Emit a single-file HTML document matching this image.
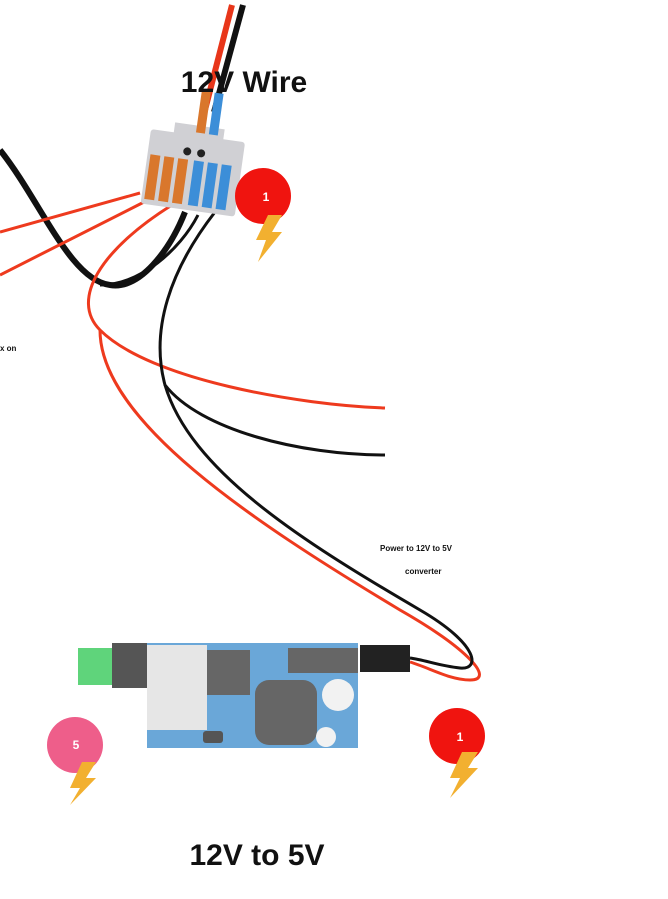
<!DOCTYPE html>
<html><head><style>
body{margin:0;background:#fff;width:668px;height:894px;overflow:hidden;font-family:"Liberation Sans",sans-serif}
</style></head><body>
<svg width="668" height="894" viewBox="0 0 668 894" xmlns="http://www.w3.org/2000/svg">
<rect width="668" height="894" fill="#fff"/>
<path d="M232 5 L205 110" stroke="#e8361a" stroke-width="6" fill="none"/>
<path d="M243 5 L214 112" stroke="#111" stroke-width="6" fill="none"/>
<path d="M0 150 C40 200 70 280 110 285 C140 290 170 250 185 212" stroke="#111" stroke-width="6" fill="none"/>
<path d="M100 285 C140 285 180 250 198 215" stroke="#111" stroke-width="3" fill="none"/>
<path d="M0 232 L140 193" stroke="#ee3a1e" stroke-width="3" fill="none"/>
<path d="M0 275 L148 200" stroke="#ee3a1e" stroke-width="3" fill="none"/>
<path d="M172 205 C100 250 70 300 100 330 C150 380 300 405 385 408" stroke="#ee3a1e" stroke-width="3" fill="none"/>
<path d="M100 330 C100 420 250 520 400 610 C470 650 495 680 470 680 C450 680 430 668 410 662" stroke="#ee3a1e" stroke-width="3" fill="none"/>
<path d="M215 212 C170 270 150 330 165 385 C200 430 300 455 385 455" stroke="#111" stroke-width="3" fill="none"/>
<path d="M165 385 C190 470 300 540 420 610 C480 645 480 670 460 668 C440 666 425 660 410 658" stroke="#111" stroke-width="3" fill="none"/>
<g transform="rotate(8 190 175)">
<rect x="145" y="135" width="95" height="75" fill="#d0d0d4" rx="3"/>
<rect x="168" y="125" width="50" height="14" fill="#d0d0d4"/>
<circle cx="184" cy="152" r="4" fill="#222"/><circle cx="198" cy="152" r="4" fill="#222"/>
<rect x="190" y="90" width="9" height="42" fill="#d9772c"/>
<rect x="203" y="90" width="9" height="42" fill="#3c8ed8"/>
<rect x="148" y="160" width="10" height="45" fill="#d9772c"/>
<rect x="162" y="160" width="10" height="45" fill="#d9772c"/>
<rect x="176" y="160" width="10" height="45" fill="#d9772c"/>
<rect x="192" y="160" width="10" height="45" fill="#3c8ed8"/>
<rect x="206" y="160" width="10" height="45" fill="#3c8ed8"/>
<rect x="220" y="160" width="10" height="45" fill="#3c8ed8"/>
</g>
<text x="244" y="92" font-size="30" font-weight="bold" text-anchor="middle" fill="#111">12V Wire</text>
<circle cx="263" cy="196" r="28" fill="#f0140f"/>
<text x="266" y="201" font-size="12" font-weight="bold" fill="#fff" text-anchor="middle">1</text>
<path d="M268 215 L256 240 L266 240 L258 262 L282 232 L272 232 L282 215 Z" fill="#f2b030"/>
<text x="0" y="351" font-size="8" font-weight="bold" fill="#111">x on</text>
<text x="380" y="551" font-size="8" font-weight="bold" fill="#111">Power to 12V to 5V</text>
<text x="405" y="574" font-size="8" font-weight="bold" fill="#111">converter</text>
<rect x="78" y="648" width="36" height="37" fill="#5fd47b"/>
<rect x="112" y="643" width="36" height="45" fill="#555"/>
<rect x="147" y="643" width="211" height="105" fill="#6aa7d8"/>
<rect x="147" y="645" width="60" height="85" fill="#e6e6e6"/>
<rect x="207" y="650" width="43" height="45" fill="#666"/>
<rect x="288" y="648" width="70" height="25" fill="#666"/>
<rect x="255" y="680" width="62" height="65" rx="14" fill="#666"/>
<circle cx="338" cy="695" r="16" fill="#f2f2f2"/>
<circle cx="326" cy="737" r="10" fill="#f2f2f2"/>
<rect x="203" y="731" width="20" height="12" rx="3" fill="#555"/>
<rect x="360" y="645" width="50" height="27" fill="#222"/>
<circle cx="75" cy="745" r="28" fill="#ee5e8a"/>
<text x="76" y="749" font-size="12" font-weight="bold" fill="#fff" text-anchor="middle">5</text>
<path d="M82 762 L70 788 L80 788 L70 805 L96 778 L86 778 L96 762 Z" fill="#f2b030"/>
<circle cx="457" cy="736" r="28" fill="#f0140f"/>
<text x="460" y="741" font-size="12" font-weight="bold" fill="#fff" text-anchor="middle">1</text>
<path d="M462 752 L450 778 L460 778 L450 798 L478 768 L468 768 L478 752 Z" fill="#f2b030"/>
<text x="257" y="865" font-size="30" font-weight="bold" text-anchor="middle" fill="#111">12V to 5V</text>
</svg>
</body></html>
